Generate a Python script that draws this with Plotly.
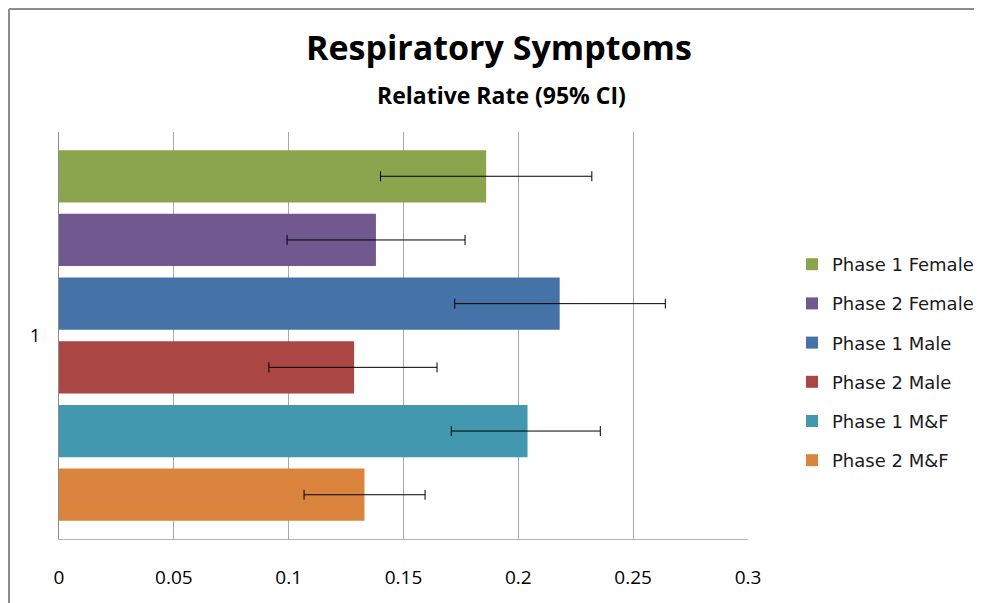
import plotly.graph_objects as go

categories = ["1"]
series_names = ["Phase 1 Female", "Phase 2 Female", "Phase 1 Male",
                "Phase 2 Male", "Phase 1 M&F", "Phase 2 M&F"]
rates = [0.186, 0.138, 0.218, 0.1285, 0.204, 0.133]
ci_low = [0.140, 0.0993, 0.1723, 0.0914, 0.1708, 0.1067]
ci_high = [0.232, 0.1768, 0.264, 0.1646, 0.2357, 0.1594]
colors = ["#8AA54E", "#71588F", "#4572A7", "#AA4643", "#4198AF", "#DB843D"]
x_ticks = [0, 0.05, 0.1, 0.15, 0.2, 0.25, 0.3]
x_tick_labels = ["0", "0.05", "0.1", "0.15", "0.2", "0.25", "0.3"]

fig = go.Figure()
for i, name in enumerate(series_names):
    fig.add_trace(go.Bar(
        y=categories, x=[rates[i]], name=name, orientation="h",
        marker=dict(color=colors[i], line=dict(width=0)),
        legendgroup=name,
        error_x=dict(type="data", symmetric=False,
                     array=[ci_high[i] - rates[i]],
                     arrayminus=[rates[i] - ci_low[i]],
                     color="black", thickness=1, width=5),
    ))

# page body has an 8px margin; work in screen coordinates and convert
OFF = 8
W, H = 982 - OFF, 603 - OFF
L, R, T, B = 59 - OFF, 748 - OFF, 132 - OFF, 539 - OFF


def px(xs):
    return (xs - OFF - L) / (R - L)


def py(ys):
    return (B - (ys - OFF)) / (B - T)


fig.update_layout(
    width=W, height=H,
    margin=dict(l=L, r=W - R, t=T, b=H - B, autoexpand=False),
    paper_bgcolor="white", plot_bgcolor="white",
    barmode="group", bargap=0.061, bargroupgap=0.18,
    font=dict(family="Open Sans", size=16, color="black"),
    showlegend=True,
    legend=dict(x=px(792), y=py(246), xanchor="left", yanchor="top",
                font=dict(family="DejaVu Sans", size=18, color="#1a1a1a"),
                tracegroupgap=12.8, itemwidth=30,
                bgcolor="rgba(0,0,0,0)"),
    annotations=[
        dict(text="<b>Respiratory Symptoms</b>", x=px(499), y=py(47),
             xref="paper", yref="paper", showarrow=False,
             xanchor="center", yanchor="middle",
             font=dict(family="Open Sans", size=34, color="black")),
        dict(text="<b>Relative Rate (95% CI)</b>", x=px(501), y=py(95),
             xref="paper", yref="paper", showarrow=False,
             xanchor="center", yanchor="middle",
             font=dict(family="Open Sans", size=23, color="black")),
    ],
    shapes=[
        dict(type="line", xref="paper", yref="paper",
             x0=px(9), x1=px(9), y0=py(9), y1=py(640),
             line=dict(color="#8c8c8c", width=2)),
        dict(type="line", xref="paper", yref="paper",
             x0=px(9), x1=px(1000), y0=py(9), y1=py(9),
             line=dict(color="#8c8c8c", width=2)),
    ],
)

fig.update_xaxes(
    range=[0, 0.3], tickvals=x_ticks, ticktext=x_tick_labels,
    showgrid=True, gridcolor="#a9a9a9", gridwidth=1,
    zeroline=False, showline=True, linecolor="#b3b3b3", linewidth=1,
    mirror=False, ticks="", ticklabelstandoff=21,
    tickfont=dict(size=19, color="black"),
)
fig.update_yaxes(
    type="category", autorange="reversed",
    showgrid=False, zeroline=False, showline=True, linecolor="#8c8c8c",
    linewidth=1, ticks="", ticklabelstandoff=14,
    tickfont=dict(size=18, color="black"),
)

fig.write_html("out.html")
